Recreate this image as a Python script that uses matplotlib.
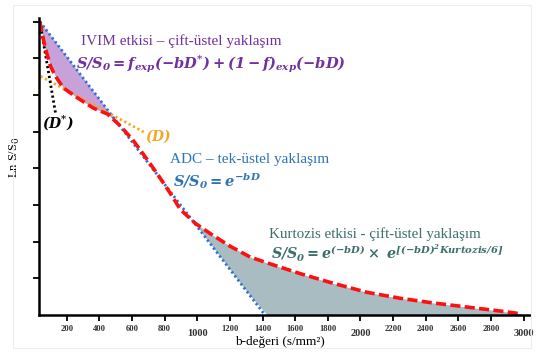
import matplotlib.pyplot as plt
import matplotlib.patches as mpatches
import numpy as np

plt.rcParams['mathtext.fontset'] = 'dejavuserif'
plt.rcParams['font.family'] = 'DejaVu Serif'

# ---- data ----
b_curve = [35, 40, 70, 101, 131, 180, 266, 364, 450, 530, 609, 680, 755, 830, 896, 988,
           1080, 1200, 1325, 1430, 1630, 1830, 2040, 2240, 2445, 2650, 2855, 2990]
ln_curve = [8.0, 7.87, 7.25, 6.78, 6.51, 6.19, 5.92, 5.64, 5.48, 5.15, 4.75, 4.32, 3.85,
            3.35, 2.88, 2.50, 2.22, 1.88, 1.58, 1.42, 1.13, 0.87, 0.62, 0.46, 0.33, 0.22,
            0.11, 0.03]

b_adc = [35, 1415]          # mono-exponential fit (ADC)
ln_adc = [8.0, 0.0]

b_d = [40, 680]             # slow component (D)
ln_d = [6.51, 4.97]

b_dstar = [35, 131]         # fast component (D*)
ln_dstar = [8.0, 5.51]

xticks = list(range(200, 3001, 200))
yticks = [1, 2, 3, 4, 5, 6, 7, 8]

purple = '#7030A0'
blue = '#2E74B5'
teal = '#3E6E6C'

fig = plt.figure(figsize=(5.39, 3.52), dpi=100)
fig.patches.append(mpatches.Rectangle((0.024, 0.012), 0.962, 0.975, transform=fig.transFigure,
                                      fill=False, edgecolor='#EEEEEE', lw=0.8))
ax = fig.add_axes([0.0724, 0.105, 0.911, 0.844])

bc = np.array(b_curve, dtype=float)
yc = np.array(ln_curve)
adc_at = np.interp(bc, b_adc, ln_adc)

# IVIM area (between ADC line and curve at low b)
m1 = bc <= 609
ax.fill_between(bc[m1], np.minimum(yc[m1], adc_at[m1]), adc_at[m1], color='#C6A2D8', lw=0)
# kurtosis area
m2 = bc >= 988
ax.fill_between(bc[m2], np.minimum(np.maximum(adc_at[m2], 0), yc[m2]), yc[m2],
                color='#A9BCC1', lw=0)

ax.plot(b_adc, ln_adc, color='#2F6FD6', lw=2, ls=(0, (0.8, 1.0)))
ax.plot(b_d, ln_d, color='#F5A623', lw=2, ls=(0, (0.8, 1.0)))
ax.plot(b_dstar, ln_dstar, color='black', lw=2, ls=(0, (0.8, 1.0)))
ax.plot(b_curve, ln_curve, color='#FF1010', lw=2.6, ls=(0, (2.8, 1.2)))

ax.set_xlim(30, 3040)
ax.set_ylim(0, 8.1)
for s in ['top', 'right']:
    ax.spines[s].set_visible(False)
for s in ['left', 'bottom']:
    ax.spines[s].set_linewidth(1.8)
ax.set_xticks(xticks)
ax.set_yticks(yticks)
ax.set_yticklabels([])
ax.tick_params(axis='both', direction='out', length=4, width=1.3)
ax.set_xticklabels([str(t) for t in xticks], fontfamily='Liberation Serif',
                   fontweight='bold', fontsize=6.2, color='#333333')
for lab, t in zip(ax.get_xticklabels(), xticks):
    if t % 1000 == 0:
        lab.set_fontsize(7.5)
        lab.set_y(-0.012)

ax.set_xlabel('b-değeri (s/mm²)', fontfamily='Liberation Serif', fontsize=9.5)
ax.xaxis.set_label_coords(0.49, -0.07)
ax.set_ylabel(r'Ln S/S$_0$', fontfamily='Liberation Serif', fontsize=9)
ax.yaxis.set_label_coords(-0.035, 0.53)

tx = dict(fontfamily='Liberation Serif', fontsize=11)
ax.text(290, 7.35, 'IVIM etkisi – çift-üstel yaklaşım', color=purple, **tx)
ax.text(255, 6.72, r'$\mathbfit{S/S_0 = f_{exp}(-bD^{*}) + (1-f)_{exp}(-bD)}$',
        color=purple, fontsize=10.5)
ax.text(50, 5.1, r'$\mathbfit{(D^{*})}$', color='black', fontsize=10)
ax.text(680, 4.75, r'$\mathbfit{(D)}$', color='#F5A623', fontsize=10)
ax.text(830, 4.15, 'ADC – tek-üstel yaklaşım', color=blue, **tx)
ax.text(850, 3.5, r'$\mathbfit{S/S_0 = e^{-bD}}$', color=blue, fontsize=10.5)
ax.text(1440, 2.1, 'Kurtozis etkisi - çift-üstel yaklaşım', color=teal, fontfamily='Liberation Serif',
        fontsize=10.8)
ax.text(1455, 1.5, r'$\mathbfit{S/S_0 = e^{(-bD)} \times\ e^{[(-bD)^2 Kurtozis/6]}}$',
        color=teal, fontsize=10.3)

fig.savefig('out.png', dpi=100)
